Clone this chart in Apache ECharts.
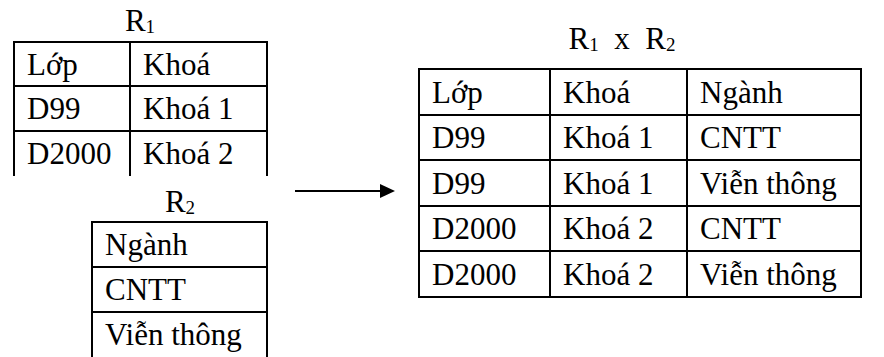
<!DOCTYPE html>
<html><head><meta charset="utf-8">
<script src="https://cdn.jsdelivr.net/npm/echarts@6/dist/echarts.min.js"></script>
<style>html,body{margin:0;padding:0;background:#fff}#c{width:884px;height:357px}</style>
</head><body><div id="c"></div>
<script>
// ---- data ----
const r1Columns = ['Lớp', 'Khoá'];
const r1Rows = [['D99', 'Khoá 1'], ['D2000', 'Khoá 2']];
const r2Columns = ['Ngành'];
const r2Rows = [['CNTT'], ['Viễn thông']];
const productColumns = ['Lớp', 'Khoá', 'Ngành'];
const productRows = [
  ['D99', 'Khoá 1', 'CNTT'],
  ['D99', 'Khoá 1', 'Viễn thông'],
  ['D2000', 'Khoá 2', 'CNTT'],
  ['D2000', 'Khoá 2', 'Viễn thông']
];
const titleR1 = ['R', '1'];
const titleR2 = ['R', '2'];
const titleProduct = ['R', '1', '  x  ', 'R', '2'];

// ---- layout (pixels on a hidden 0..884 x 0..357 value grid) ----
const FAMILY = 'Liberation Serif';
const FS = 31;
const layout = {
  r1: { x: 14, y: 42, cols: [116, 137], rowH: 44.4, tail: 0, bottom: false, pad: 13, dy: 0, lw: 2 },
  r2: { x: 92, y: 222, cols: [175], rowH: 45, tail: 10, bottom: false, pad: 13, dy: 0, lw: 2 },
  rx: { x: 419, y: 69, cols: [131, 137, 174], rowH: 45.6, tail: 0, bottom: true, pad: 13, dy: 0, lw: 2 }
};
const titlePos = { r1: [140, 20], r2: [180, 201], rx: [622, 38] };
const arrow = { x1: 295, x2: 395, y: 191, head: 15, half: 7 };

const rich = {
  c: { fontFamily: FAMILY, fontSize: FS, lineHeight: FS, color: '#000', fill: '#000' },
  m: { fontFamily: FAMILY, fontSize: FS, lineHeight: FS, color: '#000', fill: '#000' },
  s: { fontFamily: FAMILY, fontSize: 19, lineHeight: 19, verticalAlign: 'bottom', color: '#000', fill: '#000' }
};

const tables = [
  { key: 'r1', header: r1Columns, rows: r1Rows },
  { key: 'r2', header: r2Columns, rows: r2Rows },
  { key: 'rx', header: productColumns, rows: productRows }
];

function geom(key) {
  const L = layout[key];
  const colX = [L.x];
  L.cols.forEach(w => colX.push(colX[colX.length - 1] + w));
  return { L: L, colX: colX };
}
function cellData(t) {
  const all = [t.header].concat(t.rows);
  const data = [];
  all.forEach((r, ri) => r.forEach((s, ci) => data.push({ value: [ci, ri], name: s })));
  return { all: all, data: data };
}

function tableSeries(t) {
  const g = geom(t.key), L = g.L, colX = g.colX;
  const cd = cellData(t);
  const nR = cd.all.length, nC = t.header.length;
  return {
    type: 'custom', coordinateSystem: 'cartesian2d', silent: true, animation: false, clip: false,
    data: cd.data,
    renderItem: function (params, api) {
      const ci = api.value(0), ri = api.value(1);
      const x0 = colX[ci], x1 = colX[ci + 1];
      const y0 = Math.round(L.y + ri * L.rowH), y1 = Math.round(L.y + (ri + 1) * L.rowH);
      const yEnd = ri === nR - 1 ? y1 + L.tail : y1;
      const p = (x, y) => api.coord([x, y]);
      const ls = { stroke: '#000', lineWidth: L.lw, lineCap: 'square' };
      const line = (a, b) => ({ type: 'line', shape: { x1: a[0], y1: a[1], x2: b[0], y2: b[1] }, style: ls });
      const ch = [];
      ch.push(line(p(x0, y0), p(x1, y0)));
      ch.push(line(p(x0, y0), p(x0, yEnd)));
      if (ci === nC - 1) ch.push(line(p(x1, y0), p(x1, yEnd)));
      if (ri === nR - 1 && L.bottom) ch.push(line(p(x0, y1), p(x1, y1)));
      return { type: 'group', children: ch };
    }
  };
}

function richTitle(parts) {
  let s = '';
  parts.forEach(t => { s += /^\d$/.test(t) ? '{s|' + t + '}' : '{m|' + t.replace(/ /g, '\u00a0') + '}'; });
  return s;
}
function titleGraphic(key, parts) {
  return {
    type: 'text', x: titlePos[key][0], y: titlePos[key][1], silent: true,
    style: { text: richTitle(parts), rich: rich, align: 'center', verticalAlign: 'middle',
      fontFamily: FAMILY, fontSize: FS, fill: '#000' }
  };
}

const chart = echarts.init(document.getElementById('c'), null, { renderer: 'svg' });
chart.setOption({
  backgroundColor: '#fff',
  animation: false,
  textStyle: { fontFamily: FAMILY, fontSize: FS, color: '#000' },
  grid: { left: 0, right: 0, top: 0, bottom: 0 },
  xAxis: { type: 'value', min: 0, max: 884, show: false },
  yAxis: { type: 'value', min: 0, max: 357, inverse: true, show: false },
  series: tables.map(tableSeries)
});

// cell texts, positioned through the grid's axes
const cellTexts = [];
tables.forEach(t => {
  const g = geom(t.key), L = g.L, colX = g.colX;
  cellData(t).data.forEach(d => {
    const ci = d.value[0], ri = d.value[1];
    const y0 = Math.round(L.y + ri * L.rowH), y1 = Math.round(L.y + (ri + 1) * L.rowH);
    const pt = chart.convertToPixel({ gridIndex: 0 }, [colX[ci] + L.pad, (y0 + y1) / 2 + L.dy]);
    cellTexts.push({
      type: 'text', x: pt[0], y: pt[1], silent: true,
      style: { text: '{c|' + d.name + '}', rich: rich, align: 'left', verticalAlign: 'middle',
        fontFamily: FAMILY, fontSize: FS, fill: '#000' }
    });
  });
});

chart.setOption({
  graphic: [
    titleGraphic('r1', titleR1),
    titleGraphic('r2', titleR2),
    titleGraphic('rx', titleProduct),
    { type: 'line', silent: true, shape: { x1: arrow.x1, y1: arrow.y, x2: arrow.x2 - arrow.head, y2: arrow.y },
      style: { stroke: '#000', lineWidth: 2 } },
    { type: 'polygon', silent: true,
      shape: { points: [[arrow.x2 - arrow.head, arrow.y - arrow.half], [arrow.x2, arrow.y], [arrow.x2 - arrow.head, arrow.y + arrow.half]] },
      style: { fill: '#000' } }
  ].concat(cellTexts)
});
</script></body></html>
